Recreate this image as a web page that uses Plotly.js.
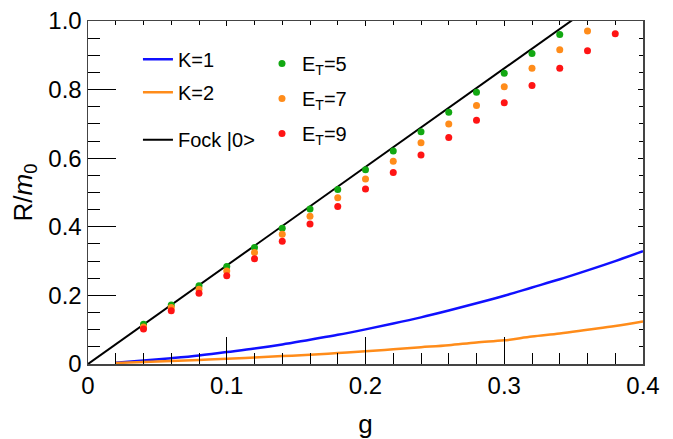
<!DOCTYPE html>
<html>
<head>
<meta charset="utf-8">
<script src="https://cdn.plot.ly/plotly-3.0.1.min.js"></script>
<style>html,body{margin:0;padding:0;background:#fff;}#chart{width:673px;height:439px;}</style>
</head>
<body>
<div id="chart"></div>
<script>
// ---- data ----
const curveG = [0.02,0.04,0.06,0.08,0.10,0.12,0.14,0.16,0.18,0.20,0.22,0.24,0.26,0.28,0.30,0.32,0.34,0.36,0.38,0.40];
const k1R = [0.004,0.010,0.017,0.025,0.035,0.045,0.057,0.071,0.085,0.101,0.118,0.136,0.156,0.177,0.199,0.223,0.247,0.273,0.300,0.329];
const k2R = [0.003,0.006,0.009,0.012,0.015,0.019,0.023,0.027,0.032,0.037,0.043,0.049,0.055,0.063,0.069,0.080,0.089,0.100,0.111,0.124];
const fockG = [0, 0.4];
const fockR = [0, 1.149];
const et5G = [0.04,0.06,0.08,0.10,0.12,0.14,0.16,0.18,0.20,0.22,0.24,0.26,0.28,0.30,0.32,0.34];
const et5R = [0.116,0.172,0.228,0.284,0.340,0.396,0.452,0.509,0.566,0.621,0.677,0.734,0.792,0.848,0.905,0.961];
const et7G = [0.04,0.06,0.08,0.10,0.12,0.14,0.16,0.18,0.20,0.22,0.24,0.26,0.28,0.30,0.32,0.34,0.36];
const et7R = [0.108,0.165,0.218,0.271,0.325,0.378,0.431,0.485,0.539,0.591,0.645,0.700,0.754,0.808,0.862,0.916,0.971];
const et9G = [0.04,0.06,0.08,0.10,0.12,0.14,0.16,0.18,0.20,0.22,0.24,0.26,0.28,0.30,0.32,0.34,0.36,0.38];
const et9R = [0.102,0.155,0.206,0.257,0.307,0.358,0.408,0.459,0.510,0.558,0.609,0.660,0.711,0.762,0.812,0.862,0.913,0.963];
const xTickVals = [0, 0.1, 0.2, 0.3, 0.4];
const xTickText = ['0', '0.1', '0.2', '0.3', '0.4'];
const yTickVals = [0, 0.2, 0.4, 0.6, 0.8, 1.0];
const yTickText = ['0', '0.2', '0.4', '0.6', '0.8', '1.0'];

const FONT = 'Liberation Sans, Arial, Helvetica, sans-serif';
const BLUE = '#1010ff', ORANGE = '#ff8c1a', GREEN = '#12a812', RED = '#ff1414';

const traces = [
  {x: curveG, y: k1R, type: 'scatter', mode: 'lines', name: 'K=1', line: {color: BLUE, width: 2.5, shape: 'spline'}, legend: 'legend', legendgroup: 'a'},
  {x: curveG, y: k2R, type: 'scatter', mode: 'lines', name: 'K=2', line: {color: ORANGE, width: 2.5, shape: 'spline'}, legend: 'legend', legendgroup: 'b'},
  {x: fockG, y: fockR, type: 'scatter', mode: 'lines', name: 'Fock |0>', line: {color: '#000', width: 2}, legend: 'legend3'},
  {x: et5G, y: et5R, type: 'scatter', mode: 'markers', name: 'E<sub>T</sub>=5', marker: {color: GREEN, size: 7}, legend: 'legend2', legendgroup: 'c'},
  {x: et7G, y: et7R, type: 'scatter', mode: 'markers', name: 'E<sub>T</sub>=7', marker: {color: ORANGE, size: 7}, legend: 'legend2', legendgroup: 'd'},
  {x: et9G, y: et9R, type: 'scatter', mode: 'markers', name: 'E<sub>T</sub>=9', marker: {color: RED, size: 7}, legend: 'legend2', legendgroup: 'e'},
  {x: fockG, y: fockR, type: 'scatter', mode: 'lines', xaxis: 'x2', yaxis: 'y2', opacity: 0, showlegend: false, hoverinfo: 'skip', line: {width: 0}}
];

const legendCommon = {font: {family: FONT, size: 20, color: '#000'}, bgcolor: 'rgba(0,0,0,0)', borderwidth: 0,
  xanchor: 'left', yanchor: 'top', traceorder: 'grouped', tracegroupgap: 6};

const layout = {
  width: 673, height: 439,
  margin: {l: 88, r: 30, t: 21, b: 75},
  paper_bgcolor: '#fff', plot_bgcolor: '#fff',
  font: {family: FONT, color: '#000'},
  showlegend: true,
  xaxis: {
    range: [0, 0.4], tickvals: xTickVals, ticktext: xTickText,
    ticks: 'inside', ticklen: 27, tickwidth: 1, tickcolor: '#000',
    minor: {dtick: 0.02, tick0: 0, ticks: 'inside', ticklen: 11, tickwidth: 1, tickcolor: '#000', showgrid: false},
    showgrid: false, zeroline: false, showline: true, linecolor: '#444', linewidth: 1.5,
    tickfont: {family: FONT, size: 24, color: '#000'},
    title: {text: 'g', font: {family: FONT, size: 26, color: '#000'}, standoff: 18},
    automargin: false
  },
  yaxis: {
    range: [0, 1.0], tickvals: yTickVals, ticktext: yTickText,
    ticks: 'inside', ticklen: 28, tickwidth: 1, tickcolor: '#000',
    minor: {dtick: 0.05, tick0: 0, ticks: 'inside', ticklen: 12, tickwidth: 1, tickcolor: '#000', showgrid: false},
    showgrid: false, zeroline: false, showline: true, linecolor: '#444', linewidth: 1.5,
    tickfont: {family: FONT, size: 24, color: '#000'},
    title: {text: 'R/<i>m</i><sub>0</sub>', font: {family: FONT, size: 26, color: '#000'}, standoff: 8},
    automargin: false
  },
  xaxis2: {
    overlaying: 'x', side: 'top', anchor: 'y2', range: [0, 0.4], tickvals: xTickVals, showticklabels: false,
    ticks: 'inside', ticklen: 5, tickwidth: 1, tickcolor: '#000',
    minor: {dtick: 0.02, tick0: 0, ticks: 'inside', ticklen: 4, tickwidth: 1, tickcolor: '#000'},
    showgrid: false, zeroline: false, showline: true, linecolor: '#444', linewidth: 1.5
  },
  yaxis2: {
    overlaying: 'y', side: 'right', anchor: 'x2', range: [0, 1.0], tickvals: yTickVals, showticklabels: false,
    ticks: 'inside', ticklen: 5, tickwidth: 1, tickcolor: '#000',
    minor: {dtick: 0.05, tick0: 0, ticks: 'inside', ticklen: 4, tickwidth: 1, tickcolor: '#000'},
    showgrid: false, zeroline: false, showline: true, linecolor: '#444', linewidth: 1.5
  },
  legend: Object.assign({}, legendCommon, {x: 0.09, y: 0.945, tracegroupgap: 4}),
  legend2: Object.assign({}, legendCommon, {x: 0.3135, y: 0.933}),
  legend3: Object.assign({}, legendCommon, {x: 0.09, y: 0.711})
};

Plotly.newPlot('chart', traces, layout, {displayModeBar: false, staticPlot: true});
</script>
</body>
</html>
